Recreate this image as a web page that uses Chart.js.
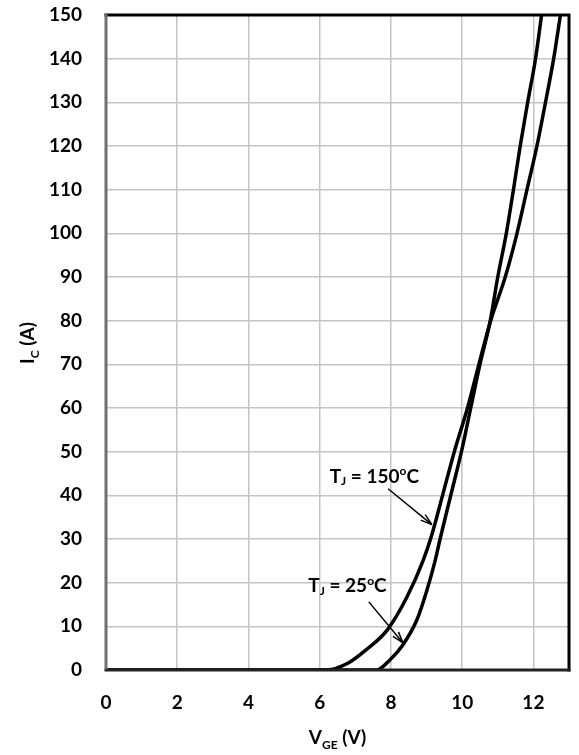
<!DOCTYPE html>
<html><head><meta charset="utf-8">
<script src="https://cdn.jsdelivr.net/npm/chart.js@4"></script>
<style>html,body{margin:0;padding:0;background:#fff}#wrap{width:579px;height:755px}</style>
</head><body><div id="wrap"><canvas id="c"></canvas></div>
<script>
const xTicks = [0, 2, 4, 6, 8, 10, 12];
const yTicks = [0, 10, 20, 30, 40, 50, 60, 70, 80, 90, 100, 110, 120, 130, 140, 150];
const vge25 = [0, 7.6, 7.97, 8.34, 8.73, 9.0, 9.24, 9.38, 9.68, 9.98, 10.24, 10.5, 10.79, 11.0, 11.24, 11.44, 11.63, 11.84, 12.06, 12.23];
const ic25  = [0, 0, 2.3, 5.8, 11.5, 18, 25, 30, 40, 50, 60, 70, 80, 90, 100, 110, 120, 130, 140, 150];
const vge150 = [0, 6.2, 6.8, 7.3, 7.9, 8.45, 8.9, 9.15, 9.45, 9.78, 10.15, 10.47, 10.8, 11.21, 11.54, 11.82, 12.1, 12.34, 12.57, 12.76];
const ic150  = [0, 0, 1.6, 4.6, 9.2, 16.7, 25, 31, 40, 50, 60, 70, 80, 90, 100, 110, 120, 130, 140, 150];
const labels = [
  {main: 'T', sub: 'J', rest: ' = 150', sup: 'o', end: 'C', x: 6.28, y: 44.3, ax1: 7.92, ay1: 41.5, ax2: 9.15, ay2: 33.3},
  {main: 'T', sub: 'J', rest: ' = 25', sup: 'o', end: 'C', x: 5.68, y: 19.2, ax1: 7.38, ay1: 15.6, ax2: 8.34, ay2: 6.2}
];
const FONT = 'Lato, "Open Sans", sans-serif';

function pts(xs, ys){ return xs.map((x,i)=>({x:x, y:ys[i]})); }

const overlay = {
  id: 'overlay',
  afterDraw(chart){
    const ctx = chart.ctx, a = chart.chartArea;
    const xs = chart.scales.x, ys = chart.scales.y;
    ctx.save();
    ctx.lineCap = 'square';
    ctx.strokeStyle = '#000'; ctx.lineWidth = 3;
    ctx.beginPath(); ctx.moveTo(a.left, a.top); ctx.lineTo(a.right, a.top); ctx.lineTo(a.right, a.bottom); ctx.stroke();
    ctx.strokeStyle = '#222';
    ctx.beginPath(); ctx.moveTo(a.left, a.bottom); ctx.lineTo(a.right, a.bottom); ctx.stroke();
    ctx.strokeStyle = '#707070';
    ctx.beginPath(); ctx.moveTo(a.left, a.top); ctx.lineTo(a.left, a.bottom - 2); ctx.stroke();
    ctx.fillStyle = '#000'; ctx.textBaseline = 'middle'; ctx.textAlign = 'left';
    labels.forEach(l => {
      let px = xs.getPixelForValue(l.x), py = ys.getPixelForValue(l.y);
      ctx.font = 'bold 19px ' + FONT;
      ctx.fillText(l.main, px, py); px += ctx.measureText(l.main).width;
      ctx.font = 'bold 12px ' + FONT;
      ctx.fillText(l.sub, px, py + 5); px += ctx.measureText(l.sub).width;
      ctx.font = 'bold 19px ' + FONT;
      ctx.fillText(l.rest, px, py); px += ctx.measureText(l.rest).width;
      ctx.font = 'bold 12px ' + FONT;
      ctx.fillText(l.sup, px, py - 5); px += ctx.measureText(l.sup).width;
      ctx.font = 'bold 19px ' + FONT;
      ctx.fillText(l.end, px, py);
      const x1 = xs.getPixelForValue(l.ax1), y1 = ys.getPixelForValue(l.ay1);
      const x2 = xs.getPixelForValue(l.ax2), y2 = ys.getPixelForValue(l.ay2);
      ctx.strokeStyle = '#000'; ctx.lineWidth = 1.5; ctx.lineCap = 'butt';
      ctx.beginPath(); ctx.moveTo(x1, y1); ctx.lineTo(x2, y2); ctx.stroke();
      const ang = Math.atan2(y2 - y1, x2 - x1), L = 12, W = 0.3;
      ctx.beginPath();
      ctx.moveTo(x2, y2);
      ctx.lineTo(x2 - L*Math.cos(ang - W), y2 - L*Math.sin(ang - W));
      ctx.moveTo(x2, y2);
      ctx.lineTo(x2 - L*Math.cos(ang + W), y2 - L*Math.sin(ang + W));
      ctx.stroke();
    });
    ctx.textBaseline = 'alphabetic';
    const xt = [['V', 19, 0], ['GE', 12, 5], [' (V)', 19, 0]];
    let tw = 0; xt.forEach(p => { ctx.font = 'bold ' + p[1] + 'px ' + FONT; tw += ctx.measureText(p[0]).width; });
    let tx = (a.left + a.right) / 2 - tw / 2, ty = 744;
    xt.forEach(p => { ctx.font = 'bold ' + p[1] + 'px ' + FONT; ctx.fillText(p[0], tx, ty + p[2]); tx += ctx.measureText(p[0]).width; });
    ctx.translate(34, 343); ctx.rotate(-Math.PI / 2);
    const yt = [['I', 19, 0], ['C', 12, 5], [' (A)', 19, 0]];
    tw = 0; yt.forEach(p => { ctx.font = 'bold ' + p[1] + 'px ' + FONT; tw += ctx.measureText(p[0]).width; });
    tx = -tw / 2;
    yt.forEach(p => { ctx.font = 'bold ' + p[1] + 'px ' + FONT; ctx.fillText(p[0], tx, p[2]); tx += ctx.measureText(p[0]).width; });
    ctx.restore();
  }
};

new Chart(document.getElementById('c'), {
  type: 'line',
  data: {
    datasets: [
      {label: 'TJ = 25°C', data: pts(vge25, ic25), borderColor: '#000', borderWidth: 3.5, pointRadius: 0, cubicInterpolationMode: 'monotone', fill: false},
      {label: 'TJ = 150°C', data: pts(vge150, ic150), borderColor: '#000', borderWidth: 3.5, pointRadius: 0, cubicInterpolationMode: 'monotone', fill: false}
    ]
  },
  options: {
    responsive: true, maintainAspectRatio: false, animation: false,
    layout: {padding: {top: 15, right: 10, left: 0, bottom: 0}},
    plugins: {legend: {display: false}, tooltip: {enabled: false}},
    scales: {
      x: {
        type: 'linear', min: 0, max: 13,
        afterBuildTicks: s => { s.ticks = xTicks.map(v => ({value: v})); },
        afterFit: s => { s.height = 85; s.paddingLeft = 0; s.paddingRight = 0; },
        border: {display: false},
        grid: {color: '#c4c4c4', lineWidth: 1.5, drawTicks: false},
        ticks: {padding: 21, color: '#000', font: {family: FONT, size: 19, weight: 'bold'}}
      },
      y: {
        type: 'linear', min: 0, max: 150,
        afterBuildTicks: s => { s.ticks = yTicks.map(v => ({value: v})); },
        afterFit: s => { s.width = 106; s.paddingTop = 0; s.paddingBottom = 0; },
        border: {display: false},
        grid: {color: '#c4c4c4', lineWidth: 1.5, drawTicks: false},
        ticks: {padding: 24, color: '#000', font: {family: FONT, size: 19, weight: 'bold'}}
      }
    }
  },
  plugins: [overlay]
});
</script></body></html>
